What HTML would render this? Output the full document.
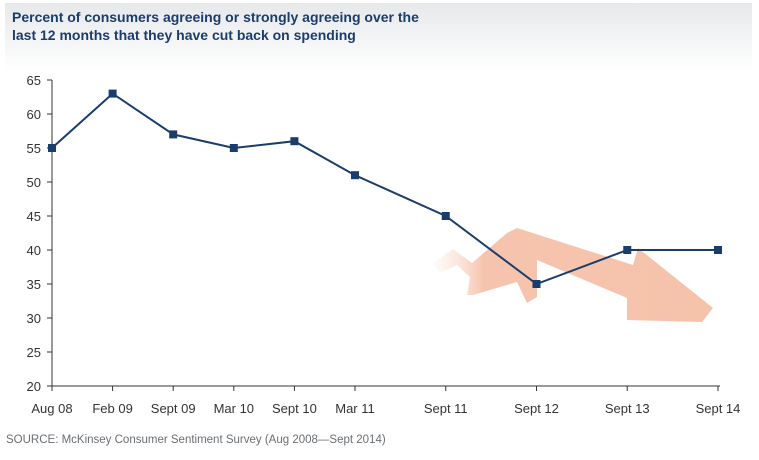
<!DOCTYPE html>
<html><head><meta charset="utf-8"><style>
body{margin:0;background:#fff;width:759px;height:455px;overflow:hidden;font-family:"Liberation Sans",Arial,sans-serif}
</style></head><body>
<svg width="759" height="455" viewBox="0 0 759 455">
<defs>
<linearGradient id="hdr" x1="0" y1="0" x2="0" y2="1"><stop offset="0" stop-color="#e6e8ea"/><stop offset="1" stop-color="#ffffff"/></linearGradient>
<linearGradient id="arr" x1="0" y1="0" x2="1" y2="0"><stop offset="0" stop-color="#fbe6dc" stop-opacity="0.2"/><stop offset="0.18" stop-color="#f6c4ae"/><stop offset="1" stop-color="#f5c2aa"/></linearGradient>
</defs>
<rect x="5" y="3" width="747" height="68" fill="url(#hdr)"/>
<text x="12" y="22" font-size="14" font-weight="bold" fill="#1b3d6b"><tspan x="12">Percent of consumers agreeing or strongly agreeing over the</tspan><tspan x="12" dy="18">last 12 months that they have cut back on spending</tspan></text>
<polygon fill="url(#arr)" points="433,263 453,249 472,263 507,233 517,228 633,265 638,248 713,308 702,322 627,320 627,298 537,260 537,297 527,303 517,282 473,295 467,295 470,277 457,265 440,273"/>
<g id="axes"></g>
<g id="plot"></g>
<text x="6" y="443" font-size="11.5" fill="#6a6e72">SOURCE: McKinsey Consumer Sentiment Survey (Aug 2008—Sept 2014)</text>
</svg>
<script>
const categories=["Aug 08","Feb 09","Sept 09","Mar 10","Sept 10","Mar 11","Sept 11","Sept 12","Sept 13","Sept 14"];
const values=[55,63,57,55,56,51,45,35,40,40];
const yTicks=[20,25,30,35,40,45,50,55,60,65];
const NS="http://www.w3.org/2000/svg";
function y(v){return 386-(v-20)*(306/45);}
function x(i){return i<=5?52+i*60.6:355+(i-5)*90.75;}
function mk(t,a,p){const e=document.createElementNS(NS,t);for(const k in a)e.setAttribute(k,a[k]);p.appendChild(e);return e;}
const ax=document.getElementById('axes'),pl=document.getElementById('plot');
let l=mk('line',{x1:52,y1:80,x2:52,y2:386,stroke:'#333','stroke-width':1},ax);


l=mk('line',{x1:52,y1:386,x2:720,y2:386,stroke:'#333','stroke-width':1},ax);


yTicks.forEach(v=>{
 mk('line',{x1:47,y1:y(v),x2:52,y2:y(v),stroke:'#333'},ax);
 const t=mk('text',{x:41,y:y(v)+5,'text-anchor':'end','font-size':13,fill:'#333'},ax);
 t.textContent=v;
 
 
});
categories.forEach((c,i)=>{
 mk('line',{x1:x(i),y1:386,x2:x(i),y2:391,stroke:'#333'},ax);
 const t=mk('text',{x:x(i),y:413,'text-anchor':'middle','font-size':13,fill:'#333'},ax);
 t.textContent=c;
 
 
});
const pts=values.map((v,i)=>x(i)+','+y(v)).join(' ');
const pline=mk('polyline',{points:pts,fill:'none',stroke:'#1b3d6b','stroke-width':2},pl);


values.forEach((v,i)=>{
 const r=mk('rect',{x:x(i)-4,y:y(v)-4,width:8,height:8,fill:'#1b3d6b'},pl);
 
 
});
</script>
</body></html>
